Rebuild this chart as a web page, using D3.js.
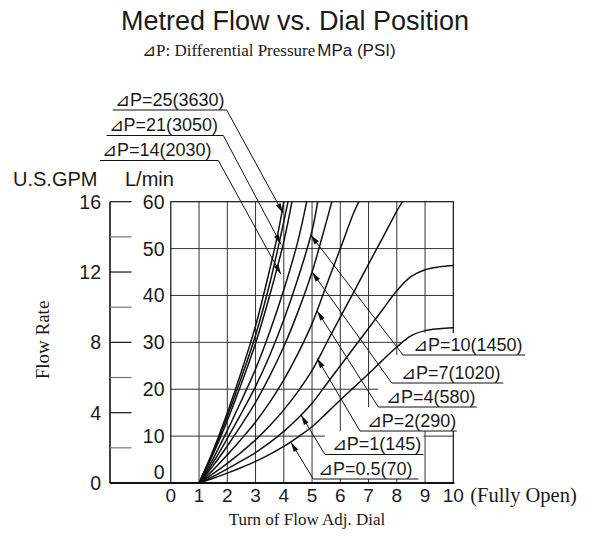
<!DOCTYPE html>
<html><head><meta charset="utf-8">
<script src="https://cdn.jsdelivr.net/npm/d3@7"></script>
<style>body{margin:0;background:#fff}svg{display:block}</style>
</head><body>
<svg id="c" width="592" height="543"></svg>
<script>
// ---- data ----
const dialTicks = [0,1,2,3,4,5,6,7,8,9,10];
const lpmTicks = [0,10,20,30,40,50,60];
const gpmMajor = [0,4,8,12,16];
const gpmMinor = [2,6,10,14];
const labels = ["⊿P=25(3630)","⊿P=21(3050)","⊿P=14(2030)","⊿P=10(1450)","⊿P=7(1020)","⊿P=4(580)","⊿P=2(290)","⊿P=1(145)","⊿P=0.5(70)"];
// curves: [dial turn, L/min]
const c25 = [[1,0],[1.5,7],[2,15],[2.5,23.8],[3,33.5],[3.5,45.5],[3.8,53.5],[4.0,60]];
const cMid = [[1,0],[1.5,6.6],[2,14.2],[2.5,22.5],[3,31.5],[3.5,42.5],[3.9,53],[4.15,60]];
const c21 = [[1,0],[1.5,6.2],[2,13.3],[2.5,21.2],[3,29.8],[3.5,40],[4,51.5],[4.29,60]];
const c14 = [[1,0],[1.5,5.2],[2,11.2],[2.5,17.6],[3,24.3],[3.5,32.2],[4,41.2],[4.5,51.6],[4.81,60]];
const c10 = [[1,0],[1.5,4.4],[2,9.5],[2.5,14.9],[3,20.6],[3.5,27.2],[4,34.8],[4.5,43.6],[5,53.8],[5.2,60]];
const c7  = [[1,0],[1.5,3.7],[2,7.9],[2.5,12.4],[3,17.2],[3.5,22.8],[4,29.1],[4.5,36.5],[5,45],[5.5,55.6],[5.7,60]];
const c4  = [[1,0],[1.5,2.8],[2,6],[2.5,9.4],[3,13],[3.5,17.2],[4,22],[4.5,27.6],[5,34],[5.5,42],[6,50],[6.5,58],[6.66,60]];
const c2  = [[1,0],[1.5,2],[2,4.2],[2.5,6.6],[3,9.2],[3.5,12.2],[4,15.6],[4.5,19.5],[5,24],[5.5,29.7],[6,35.4],[6.5,41],[7,46.7],[7.5,52.3],[8,58],[8.2,60]];
const c1  = [[1,0],[1.5,1.4],[2,3],[2.5,4.7],[3,6.5],[3.5,8.6],[4,11],[4.5,13.8],[5,17],[5.5,21],[6,25],[6.5,29],[7,33],[7.5,37],[8,41],[8.5,44],[9,45.5],[9.5,46.1],[10,46.4]];
const c05 = [[1,0],[1.5,1],[2,2.1],[2.5,3.3],[3,4.6],[3.5,6.1],[4,7.8],[4.5,9.8],[5,12],[5.5,14.8],[6,17.7],[6.5,20.5],[7,23.3],[7.5,26.2],[8,29],[8.5,31.4],[9,32.5],[9.5,32.9],[10,33.1]];
const curves = [c25,cMid,c21,c14,c10,c7,c4,c2,c1,c05];
// arrow tips (dial, L/min) for each label
const tips = [[3.97,57.6],[3.9,50.9],[3.9,44.5],[4.95,52.9],[5.0,45],[5.18,36.7],[5.18,26.6],[4.61,14.5],[4.25,8.7]];

// ---- layout ----
const svg = d3.select("#c");
const W=592,H=543;
svg.append("rect").attr("width",W).attr("height",H).attr("fill","#fff");
const x = d3.scaleLinear().domain([0,10]).range([170.8,453.3]);
const y = d3.scaleLinear().domain([0,60]).range([483,201.7]);
const yg = d3.scaleLinear().domain([0,16]).range([483,201.7]);
const sans = "'Liberation Sans', Arial, sans-serif";
const serif = "'Liberation Serif', 'Times New Roman', serif";
const ink = "#1a1a1a";

// title
svg.append("text").attr("x",295).attr("y",30).attr("text-anchor","middle")
  .attr("font-family",sans).attr("font-size",27).attr("fill",ink).text("Metred Flow vs. Dial Position");
const st = svg.append("text").attr("x",142).attr("y",56).attr("font-size",17).attr("fill",ink);
st.append("tspan").attr("font-family",serif).text("⊿P: Differential Pressure");
st.append("tspan").attr("font-family",sans).attr("dx",2).text("MPa (PSI)");

// grid
const g = svg.append("g");
g.selectAll("line.v").data(dialTicks.slice(1,10)).join("line")
  .attr("x1",d=>x(d)).attr("x2",d=>x(d)).attr("y1",y(60)).attr("y2",y(0))
  .attr("stroke","#333").attr("stroke-width",1);
g.selectAll("line.h").data(lpmTicks.slice(1,6)).join("line")
  .attr("x1",x(0)).attr("x2",x(10)).attr("y1",d=>y(d)).attr("y2",d=>y(d))
  .attr("stroke","#333").attr("stroke-width",1);
g.append("rect").attr("x",x(0)).attr("y",y(60)).attr("width",x(10)-x(0)).attr("height",y(0)-y(60))
  .attr("fill","none").attr("stroke","#111").attr("stroke-width",1.2);

// label layout (pixels): text x, underline x1, x2, y
const leftLay = [[115,112.7,226.7,110],[108.5,106.7,223.3,135.5],[102,100,218.3,160.5]];
const rightLay = [[413,403,525,355],[401,391.7,503.3,383],[386,378.3,476.7,407],[366.7,360,456.7,431],[331.7,325,423.3,454.5],[318,313.3,418.3,479]];

// white boxes behind right labels
let prevY = 333;
rightLay.forEach(r=>{
  svg.append("rect").attr("x",r[1]).attr("y",prevY).attr("width",r[2]-r[1]).attr("height",r[3]-prevY).attr("fill","#fff");
  prevY = r[3];
});

// axes
const ax = svg.append("g");
ax.append("line").attr("x1",110).attr("x2",x(10)+1).attr("y1",y(0)).attr("y2",y(0)).attr("stroke","#111").attr("stroke-width",2.2);
ax.append("line").attr("x1",110).attr("x2",110).attr("y1",yg(16)).attr("y2",yg(0)).attr("stroke","#111").attr("stroke-width",1.6);
ax.selectAll("line.gm").data(gpmMajor.slice(1)).join("line")
  .attr("x1",110).attr("x2",131.5).attr("y1",d=>yg(d)).attr("y2",d=>yg(d)).attr("stroke","#111").attr("stroke-width",1.2);
ax.selectAll("line.gn").data(gpmMinor).join("line")
  .attr("x1",110).attr("x2",131.5).attr("y1",d=>yg(d)).attr("y2",d=>yg(d)).attr("stroke","#777").attr("stroke-width",1.2);
ax.selectAll("text.gl").data(gpmMajor).join("text")
  .attr("x",101).attr("y",d=>yg(d)+7).attr("text-anchor","end")
  .attr("font-family",sans).attr("font-size",19.5).attr("fill",ink).text(d=>d);
ax.selectAll("text.ll").data(lpmTicks).join("text")
  .attr("x",164.5).attr("y",d=>(d===0?y(d)-11:y(d))+7).attr("text-anchor","end")
  .attr("font-family",sans).attr("font-size",19.5).attr("fill",ink).text(d=>d);
ax.selectAll("text.xl").data(dialTicks).join("text")
  .attr("x",d=>x(d)).attr("y",502).attr("text-anchor","middle")
  .attr("font-family",sans).attr("font-size",19).attr("fill",ink).text(d=>d);
ax.append("text").attr("x",x(10)+17).attr("y",502).attr("font-family",serif).attr("font-size",20.5).attr("fill",ink).text("(Fully Open)");
ax.append("text").attr("x",307).attr("y",525).attr("text-anchor","middle").attr("font-family",serif).attr("font-size",17).attr("fill",ink).text("Turn of Flow Adj. Dial");
ax.append("text").attr("x",13).attr("y",186).attr("font-family",sans).attr("font-size",20).attr("fill",ink).text("U.S.GPM");
ax.append("text").attr("x",125).attr("y",186).attr("font-family",sans).attr("font-size",20).attr("fill",ink).text("L/min");
ax.append("text").attr("transform","translate(49,340) rotate(-90)").attr("text-anchor","middle")
  .attr("font-family",serif).attr("font-size",19).attr("fill",ink).text("Flow Rate");

// curves
const line = d3.line().x(d=>x(d[0])).y(d=>y(d[1])).curve(d3.curveCatmullRom.alpha(0.5));
svg.append("g").selectAll("path").data(curves).join("path")
  .attr("d",line).attr("fill","none").attr("stroke","#111").attr("stroke-width",1.5);

// labels, underlines, leaders, arrows
function arrow(x0,y0,x1,y1){
  svg.append("line").attr("x1",x0).attr("y1",y0).attr("x2",x1).attr("y2",y1).attr("stroke","#111").attr("stroke-width",1);
  const a=Math.atan2(y1-y0,x1-x0), L=10, w=2.6;
  const bx=x1-L*Math.cos(a), by=y1-L*Math.sin(a);
  const px=-Math.sin(a)*w, py=Math.cos(a)*w;
  svg.append("path").attr("d",`M${x1},${y1}L${bx+px},${by+py}L${bx-px},${by-py}Z`).attr("fill","#111");
}
labels.forEach((t,i)=>{
  let lay, sx;
  if(i<3){ lay=leftLay[i]; sx=lay[2]; } else { lay=rightLay[i-3]; sx=lay[1]; }
  svg.append("text").attr("x",lay[0]).attr("y",lay[3]-4.5).attr("font-family",sans).attr("font-size",18).attr("fill",ink).text(t);
  svg.append("line").attr("x1",lay[1]).attr("x2",lay[2]).attr("y1",lay[3]).attr("y2",lay[3]).attr("stroke","#111").attr("stroke-width",1);
  arrow(sx,lay[3],x(tips[i][0]),y(tips[i][1]));
});
</script>
</body></html>
